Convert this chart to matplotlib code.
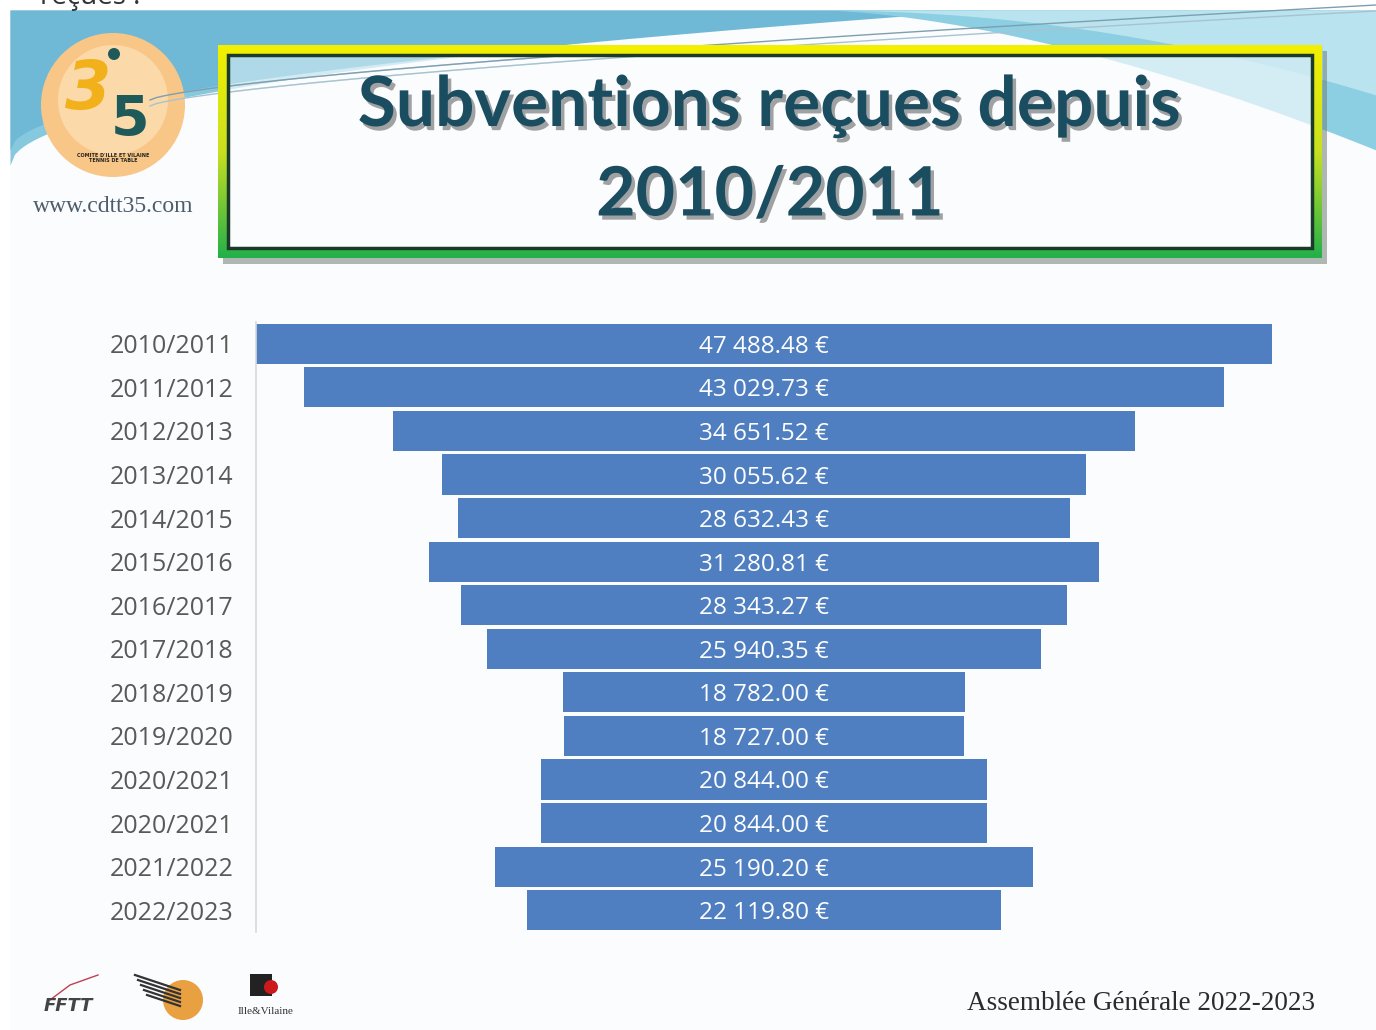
import numpy as np
import matplotlib
matplotlib.use("Agg")
import matplotlib.pyplot as plt
from matplotlib.patches import Rectangle, PathPatch, Circle
from matplotlib.path import Path
from matplotlib.colors import LinearSegmentedColormap
import matplotlib.patheffects as pe

# ---------------- data ----------------
seasons = ["2010/2011", "2011/2012", "2012/2013", "2013/2014", "2014/2015",
           "2015/2016", "2016/2017", "2017/2018", "2018/2019", "2019/2020",
           "2020/2021", "2020/2021", "2021/2022", "2022/2023"]
amounts = [47488.48, 43029.73, 34651.52, 30055.62, 28632.43,
           31280.81, 28343.27, 25940.35, 18782.00, 18727.00,
           20844.00, 20844.00, 25190.20, 22119.80]
title_lines = ["Subventions reçues depuis", "2010/2011"]
footer_text = "Assemblée Générale 2022-2023"
site_text = "www.cdtt35.com"


def fmt_eur(v):
    s = f"{v:,.2f}".replace(",", " ")
    return s + " €"


W, H = 1376, 1030
fig = plt.figure(figsize=(W / 100, H / 100), dpi=100)
fig.patch.set_facecolor("white")

# ---------------- slide background ----------------
bg = fig.add_axes([0, 0, 1, 1], zorder=-1)
bg.set_axis_off()

SLIDE = "#fbfcfd"
bg.add_patch(Rectangle((10, 10), W - 10, H - 10, facecolor=SLIDE, edgecolor="none"))


def draw_swoosh(alpha=1.0, clip=None):
    arts = []
    xs = np.linspace(10, W, 300)
    t = (xs - 10) / (W - 10)
    y_low = 165 - 150 * np.sqrt(np.clip(t * 1.6, 0, 1))
    arts.append(bg.fill_between(xs, 10, y_low, color="#86c9df", lw=0, alpha=alpha))
    y_low2 = 150 - 140 * np.sqrt(np.clip(t * 1.4, 0, 1))
    arts.append(bg.fill_between(xs, 10, y_low2, color="#6fb8d6", lw=0, alpha=alpha))
    xr = np.linspace(820, W, 200)
    tr = (xr - 820) / (W - 820)
    arts.append(bg.fill_between(xr, 10, 10 + 140 * tr ** 1.6, color="#8ccfe3", lw=0, alpha=alpha))
    arts.append(bg.fill_between(xr, 10, 10 + 85 * tr ** 2.0, color="#b9e3ef", lw=0, alpha=alpha))
    xl = np.linspace(150, W, 200)
    tl = (xl - 150) / (W - 150)
    for off, c in [(0, "#7d9fb0"), (6, "#a8c3cf")]:
        arts += bg.plot(xl, 100 + off - 95 * tl ** 0.7, color=c, lw=1.0, alpha=alpha)
    if clip is not None:
        for a in arts:
            a.set_clip_path(clip)
            a.set_zorder(1.5)


draw_swoosh()

# faint top strip text (cut off in the reference too)
bg.text(40, 4, "reçues :", fontsize=20, color="#333333", family="Open Sans",
        va="baseline", ha="left")

# ---------------- title box ----------------
x0, y0, x1, y1 = 218, 45, 1322, 258
bw = 10
bg.add_patch(Rectangle((x0 + 5, y0 + 6), x1 - x0, y1 - y0, facecolor="#6f7f75",
                       edgecolor="none", alpha=0.55, zorder=1))
inner = Rectangle((x0, y0), x1 - x0, y1 - y0, facecolor=SLIDE, edgecolor="none", zorder=1.2)
bg.add_patch(inner)
draw_swoosh(alpha=0.35, clip=inner)

verts = [(x0, y0), (x1, y0), (x1, y1), (x0, y1), (x0, y0),
         (x0 + bw, y0 + bw), (x0 + bw, y1 - bw), (x1 - bw, y1 - bw), (x1 - bw, y0 + bw), (x0 + bw, y0 + bw)]
codes = [Path.MOVETO, Path.LINETO, Path.LINETO, Path.LINETO, Path.CLOSEPOLY] * 2
frame = PathPatch(Path(verts, codes), facecolor="none", edgecolor="none")
bg.add_patch(frame)
cmap = LinearSegmentedColormap.from_list("yg", ["#f4f000", "#c8e020", "#22b04a"])
grad = np.linspace(0, 1, 256).reshape(-1, 1)
im = bg.imshow(grad, extent=[x0, x1, y1, y0], cmap=cmap, aspect="auto", zorder=2)
im.set_clip_path(frame)
bg.add_patch(Rectangle((x0 + bw, y0 + bw), x1 - x0 - 2 * bw, y1 - y0 - 2 * bw,
                       facecolor="none", edgecolor="#1c3a2a", lw=2.5, zorder=3))

shadow = [pe.withSimplePatchShadow(offset=(2.5, -3), shadow_rgbFace="#333333", alpha=0.45)]
bg.text(770, 107, title_lines[0], ha="center", va="center", fontsize=50,
        weight="bold", color="#1b4d60", family="Lato", path_effects=shadow, zorder=4)
bg.text(770, 196, title_lines[1], ha="center", va="center", fontsize=49,
        weight="bold", color="#1b4d60", family="Lato", path_effects=shadow, zorder=4)

# ---------------- logo ----------------
bg.add_patch(Circle((113, 105), 72, facecolor="#f8c787", edgecolor="none"))
bg.add_patch(Circle((113, 100), 55, facecolor="#fbd9a8", edgecolor="none"))
bg.text(88, 90, "3", fontsize=48, color="#f2b01a", weight="bold", style="italic",
        family="DejaVu Sans", ha="center", va="center")
bg.text(130, 120, "5", fontsize=40, color="#1f5a5a", weight="bold",
        family="DejaVu Sans", ha="center", va="center")
bg.add_patch(Circle((114, 54), 6, facecolor="#1f5a5a", edgecolor="none"))
bg.text(113, 158, "COMITE D'ILLE ET VILAINE\nTENNIS DE TABLE", fontsize=3.5,
        color="#222222", weight="bold", ha="center", va="center", linespacing=1.1)
bg.text(113, 207, site_text, ha="center", va="center", fontsize=17,
        color="#4c5c6c", family="Liberation Serif")

# ---------------- bottom logos & footer ----------------
bg.text(68, 1006, "FFTT", fontsize=13, color="#444444", weight="bold",
        family="DejaVu Sans", ha="center", va="center", style="italic")
bg.plot([50, 70, 98], [1000, 985, 975], color="#c04050", lw=1)
bg.add_patch(Circle((183, 1000), 20, facecolor="#e8a040", edgecolor="none"))
for k in range(5):
    bg.plot([135 + k * 3, 180], [975 + k * 5, 990 + k * 4], color="#333333", lw=1.6)
bg.add_patch(Rectangle((250, 974), 22, 22, facecolor="#222222", edgecolor="none"))
bg.add_patch(Circle((271, 987), 7, facecolor="#cc1a1a", edgecolor="none"))
bg.text(265, 1011, "Ille&Vilaine", fontsize=8, color="#333333",
        family="Liberation Serif", ha="center", va="center")
bg.text(1141, 1003, footer_text, ha="center", va="center", fontsize=19.5,
        color="#2b2b2b", family="Liberation Serif")

bg.set_xlim(0, W)
bg.set_ylim(H, 0)

# ---------------- funnel chart ----------------
L, R, T, B = 256, 1272, 322, 932
ax = fig.add_axes([L / W, 1 - B / H, (R - L) / W, (B - T) / H])
ax.set_facecolor("none")
n = len(seasons)
ypos = np.arange(n)
vals = np.array(amounts)
ax.barh(ypos, vals, left=-vals / 2, height=0.92, color="#4f7fc0", edgecolor="none")
for y, v in zip(ypos, vals):
    ax.text(0, y, fmt_eur(v), ha="center", va="center_baseline", color="white",
            fontsize=17.5, family="Open Sans")
M = vals.max()
ax.set_xlim(-M / 2, M / 2)
ax.set_ylim(n - 0.5, -0.5)
ax.set_yticks(ypos)
ax.set_yticklabels(seasons, fontsize=18, color="#595959", family="Open Sans")
ax.tick_params(axis="y", length=0, pad=16)
ax.set_xticks([])
for s in ["top", "right", "bottom"]:
    ax.spines[s].set_visible(False)
ax.spines["left"].set_color("#d9d9d9")
ax.spines["left"].set_linewidth(1.2)

fig.savefig("out.png", dpi=100)
